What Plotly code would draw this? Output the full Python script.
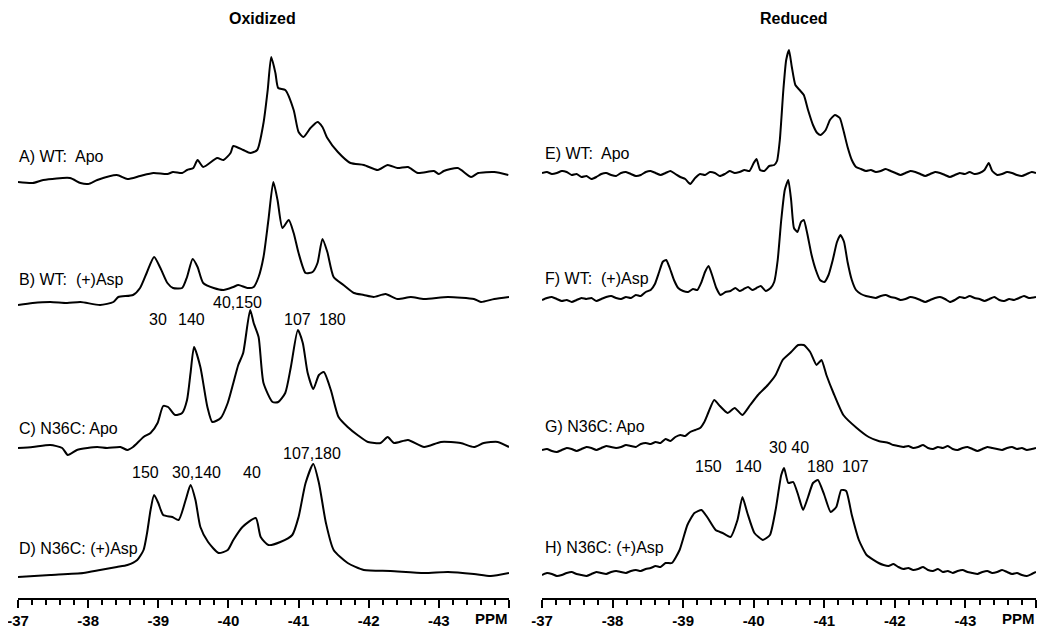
import plotly.graph_objects as go

# 19F NMR spectra, chemical shift in ppm, intensity in arbitrary units above each baseline
a_ppm = [-37.0, -37.21, -37.36, -37.74, -37.89, -38.0, -38.13, -38.41, -38.56, -38.74, -38.93, -39.13,
         -39.21, -39.34, -39.41, -39.5, -39.56, -39.64, -39.84, -39.93, -40.03, -40.07, -40.21, -40.31,
         -40.41, -40.5, -40.56, -40.61, -40.67, -40.71, -40.81, -40.93, -41.0, -41.07, -41.17, -41.27,
         -41.34, -41.41, -41.56, -41.74, -41.93, -42.13, -42.27, -42.41, -42.56, -42.7, -42.93, -43.0,
         -43.07, -43.27, -43.46, -43.56, -43.79, -43.99]
a_int = [0, -1, 2, 4, -1, -2, 2, 7, 3, 6, 9, 8, 10, 9, 12, 14, 22, 15, 24, 22, 29, 36, 32, 29,
         32, 59, 92, 125, 109, 94, 92, 72, 50, 45, 54, 60, 55, 44, 30, 19, 17, 12, 17, 14, 15, 9,
         11, 8, 11, 14, 5, 9, 10, 7]

b_ppm = [-37.0, -37.21, -37.46, -37.7, -37.89, -38.17, -38.36, -38.43, -38.64, -38.74, -38.84, -38.94,
         -39.03, -39.13, -39.21, -39.34, -39.41, -39.49, -39.56, -39.64, -39.79, -39.93, -40.07, -40.14,
         -40.27, -40.36, -40.43, -40.5, -40.57, -40.64, -40.7, -40.77, -40.86, -40.93, -41.0, -41.1,
         -41.2, -41.27, -41.34, -41.41, -41.5, -41.64, -41.79, -41.93, -42.07, -42.24, -42.41, -42.6,
         -42.79, -43.13, -43.5, -43.6, -43.79, -44.0]
b_int = [0, 2, 3, 2, 3, 0, 3, 8, 10, 17, 33, 48, 37, 22, 17, 17, 28, 46, 38, 22, 17, 15, 18, 20,
         17, 18, 28, 48, 85, 123, 105, 77, 85, 72, 52, 32, 33, 42, 66, 53, 28, 20, 12, 10, 8, 11, 6, 8,
         6, 8, 6, 3, 6, 8]

c_ppm = [-37.0, -37.21, -37.46, -37.63, -37.71, -37.84, -37.99, -38.13, -38.27, -38.46, -38.56, -38.64,
         -38.79, -38.89, -38.99, -39.07, -39.14, -39.24, -39.34, -39.41, -39.46, -39.51, -39.6, -39.7,
         -39.77, -39.89, -39.99, -40.07, -40.14, -40.21, -40.31, -40.36, -40.43, -40.5, -40.63, -40.71,
         -40.81, -40.89, -40.99, -41.06, -41.13, -41.21, -41.29, -41.36, -41.46, -41.57, -41.7, -41.84,
         -41.99, -42.17, -42.27, -42.36, -42.56, -42.79, -43.03, -43.31, -43.5, -43.64, -43.84, -44.0]
c_int = [0, 1, 3, 0, -7, -2, 0, 1, 0, 1, -2, 1, 11, 15, 25, 42, 41, 33, 35, 48, 75, 101, 81, 41,
         26, 30, 45, 65, 83, 95, 138, 125, 111, 65, 46, 46, 55, 81, 118, 105, 75, 59, 73, 76, 58, 31,
         21, 13, 6, 5, 11, 5, 8, 1, 6, 5, 1, 5, 6, 1]

d_ppm = [-37.0, -37.46, -37.93, -38.17, -38.41, -38.56, -38.7, -38.79, -38.84, -38.89, -38.94, -39.0,
         -39.07, -39.2, -39.29, -39.39, -39.46, -39.53, -39.6, -39.71, -39.86, -39.99, -40.07, -40.2,
         -40.39, -40.46, -40.57, -40.74, -40.91, -41.0, -41.1, -41.21, -41.29, -41.39, -41.5, -41.7,
         -41.93, -42.31, -42.79, -43.13, -43.5, -43.74, -44.0]
d_int = [0, 2, 4, 7, 10, 12, 17, 27, 44, 67, 82, 74, 62, 60, 57, 77, 92, 77, 50, 35, 24, 27, 37, 50,
         59, 40, 32, 35, 42, 60, 94, 113, 94, 54, 27, 14, 7, 6, 4, 5, 3, 1, 4]

e_ppm = [-37.0, -37.07, -37.14, -37.21, -37.28, -37.35, -37.42, -37.49, -37.56, -37.63, -37.7, -37.77,
         -37.84, -37.91, -37.98, -38.05, -38.12, -38.19, -38.26, -38.33, -38.4, -38.47, -38.54, -38.61,
         -38.68, -38.75, -38.82, -38.89, -38.96, -39.03, -39.1, -39.17, -39.24, -39.31, -39.38, -39.45,
         -39.52, -39.59, -39.66, -39.73, -39.8, -39.87, -39.94, -40.0, -40.04, -40.09, -40.15, -40.22,
         -40.29, -40.33, -40.37, -40.42, -40.46, -40.5, -40.54, -40.59, -40.65, -40.71, -40.77, -40.84,
         -40.9, -40.95, -41.02, -41.08, -41.15, -41.22, -41.27, -41.33, -41.39, -41.45, -41.52, -41.59,
         -41.66, -41.73, -41.8, -41.87, -41.94, -42.01, -42.08, -42.15, -42.22, -42.29, -42.36, -42.43,
         -42.5, -42.57, -42.64, -42.71, -42.78, -42.85, -42.92, -42.99, -43.06, -43.13, -43.2, -43.27,
         -43.33, -43.38, -43.45, -43.52, -43.59, -43.66, -43.73, -43.8, -43.87, -43.94, -44.0]
e_int = [2, 3, 1, 2, 4, 3, 0, 1, -2, -1, -4, -2, 1, 2, 0, -1, 2, 3, 1, -1, 0, 3, 4, 2,
         0, 2, 4, 1, -2, -4, -9, -3, 1, 0, 3, 2, -1, 1, 4, 2, 3, 5, 4, 12,
         16, 5, 4, 9, 10, 14, 35, 85, 115, 125, 108, 90, 85, 80, 65, 50, 42, 40, 45, 55, 60, 57, 45, 28, 15,
         8, 6, 4, 5, 3, 4, 6, 4, 2, 0, 2, 4, 3, 1, -1, 1, 3, 2, 0, -2, 0, 2, 1, 3, 1, 2, 5, 12,
         4, 0, 1, 3, 2, 0, -1, 1, 3, 2]

f_ppm = [-37.0, -37.07, -37.14, -37.21, -37.28, -37.35, -37.42, -37.49, -37.56, -37.63, -37.7, -37.77,
         -37.84, -37.91, -37.98, -38.05, -38.12, -38.19, -38.26, -38.33, -38.4, -38.47, -38.54, -38.6,
         -38.66, -38.71, -38.76, -38.81, -38.87, -38.93, -39.0, -39.07, -39.14, -39.2, -39.26, -39.31,
         -39.36, -39.41, -39.47, -39.53, -39.6, -39.67, -39.74, -39.8, -39.86, -39.92, -39.98, -40.04,
         -40.1, -40.17, -40.24, -40.29, -40.34, -40.39, -40.44, -40.49, -40.53, -40.57, -40.62, -40.67,
         -40.71, -40.76, -40.82, -40.88, -40.94, -41.0, -41.06, -41.12, -41.18, -41.23, -41.28, -41.33,
         -41.39, -41.45, -41.52, -41.59, -41.66, -41.73, -41.8, -41.87, -41.94, -42.01, -42.08, -42.15,
         -42.22, -42.29, -42.36, -42.43, -42.5, -42.57, -42.64, -42.71, -42.78, -42.85, -42.92, -42.99,
         -43.06, -43.13, -43.2, -43.27, -43.34, -43.41, -43.48, -43.55, -43.62, -43.69, -43.76, -43.83,
         -43.9, -44.0]
f_int = [0, 2, 3, 1, -1, 0, -2, 0, 2, 1, 2, -1, 1, 3, 4, 2, 1, 3, 2, 5, 4, 8, 10, 16,
         28, 38, 40, 32, 20, 12, 9, 8, 11, 10, 18, 28, 34, 25, 12,
         5, 8, 9, 12, 9, 11, 13, 10, 12, 14, 9, 12, 18,
         40, 80, 110, 120, 100, 72, 68, 78, 80, 66, 45, 30, 20, 18, 25, 40, 58, 65, 58, 38, 20, 10,
         6, 4, 3, 2, 4, 5, 3, 2, 0, 1, 3, 2, 0, -2, 0, 2, 3, 1, -2, 0, 3, 2, 4, 2, 1, -1, 1, 3,
         0, -1, 1, 0, 2, 4, 2, 3]

g_ppm = [-37.0, -37.07, -37.14, -37.21, -37.28, -37.35, -37.42, -37.49, -37.56, -37.63, -37.7, -37.77,
         -37.84, -37.91, -37.98, -38.05, -38.12, -38.19, -38.26, -38.33, -38.4, -38.47, -38.54, -38.61,
         -38.68, -38.75, -38.82, -38.89, -38.96, -39.03, -39.1, -39.17, -39.24, -39.3, -39.36, -39.44,
         -39.52, -39.63, -39.73, -39.84, -39.95, -40.06, -40.2, -40.31, -40.41, -40.53, -40.63, -40.71,
         -40.8, -40.89, -40.96, -41.03, -41.13, -41.27, -41.46, -41.63, -41.77, -41.91, -41.98, -42.05,
         -42.12, -42.19, -42.26, -42.33, -42.4, -42.47, -42.54, -42.61, -42.68, -42.75, -42.82, -42.89,
         -42.96, -43.03, -43.1, -43.17, -43.24, -43.31, -43.38, -43.45, -43.52, -43.59, -43.66, -43.73,
         -43.8, -43.87, -43.94, -44.0]
g_int = [0, 1, -1, -2, 0, 2, 1, -1, 1, 3, 2, 0, 2, 4, 3, 2, 3, 5, 4, 3, 6, 7, 6, 8,
         7, 11, 9, 13, 15, 14, 18, 20, 22, 28, 38, 50, 44, 37, 42, 35, 45, 55, 65, 75, 90, 98, 105, 105,
         98, 85, 90, 75, 57, 35, 22, 13, 9, 7,
         5, 4, 3, 4, 2, 3, 5, 2, 1, 3, 2, 4, 1, 0, 2, 3, 1, -1, 1, 3, 2, 1, 0, 2, 3, 1, 2, 0, 1, 2]

h_ppm = [-37.0, -37.07, -37.14, -37.21, -37.28, -37.35, -37.42, -37.49, -37.56, -37.63, -37.7, -37.77,
         -37.84, -37.91, -37.98, -38.05, -38.12, -38.19, -38.26, -38.33, -38.4, -38.47, -38.54, -38.61,
         -38.68, -38.75, -38.84, -38.95, -39.06, -39.16, -39.26, -39.34, -39.46, -39.56, -39.67, -39.77,
         -39.84, -39.91, -40.01, -40.13, -40.23, -40.31, -40.39, -40.43, -40.49, -40.56, -40.63, -40.7,
         -40.77, -40.84, -40.91, -41.0, -41.09, -41.17, -41.24, -41.31, -41.39, -41.49, -41.6, -41.77,
         -41.84, -41.91, -41.98, -42.05, -42.12, -42.19, -42.26, -42.33, -42.4, -42.47, -42.54, -42.61,
         -42.68, -42.75, -42.82, -42.89, -42.96, -43.03, -43.1, -43.17, -43.24, -43.31, -43.38, -43.45,
         -43.52, -43.59, -43.66, -43.73, -43.8, -43.87, -43.94, -44.0]
h_int = [0, 2, 1, -1, 0, 2, 3, 1, 0, -1, 1, 3, 2, 1, 3, 4, 3, 2, 4, 5, 4, 6, 7, 9,
         8, 12, 12, 25, 50, 62, 65, 58, 45, 42, 38, 55, 78, 62, 42, 35, 40, 65, 100, 107,
         92, 93, 80, 65, 78, 92, 95, 80, 63, 68, 85, 84, 60, 35, 20, 12,
         10, 9, 11, 8, 6, 7, 5, 6, 8, 5, 4, 6, 3, 4, 2, 4, 5, 3, 2, 1, 3, 4, 2, 3, 5, 3, 1, 2,
         0, -1, 1, 3]

tick_vals = [-37, -38, -39, -40, -41, -42, -43, -44]
tick_text = ["-37", "-38", "-39", "-40", "-41", "-42", "-43", ""]

# page body adds an 8px margin, so the figure is a bit smaller than the window
W, H, PAD = 1042, 631, 8


def px(x):
    return (x - PAD) / W


def py(y):
    return 1 - (y - PAD) / H


# baseline offsets for the stacked spectra
left = [(a_ppm, a_int, 416), (b_ppm, b_int, 293), (c_ppm, c_int, 150), (d_ppm, d_int, 21)]
right = [(e_ppm, e_int, 423), (f_ppm, f_int, 298), (g_ppm, g_int, 148), (h_ppm, h_int, 23)]

fig = go.Figure()
for xs, ys, off in left:
    fig.add_trace(go.Scatter(x=xs, y=[v + off for v in ys], mode="lines",
                             line=dict(color="black", width=2, shape="spline", smoothing=0.6),
                             xaxis="x", yaxis="y"))
for xs, ys, off in right:
    fig.add_trace(go.Scatter(x=xs, y=[v + off for v in ys], mode="lines",
                             line=dict(color="black", width=2, shape="spline", smoothing=0.5),
                             xaxis="x2", yaxis="y2"))

axis_style = dict(range=[-37, -44], tickvals=tick_vals, ticktext=tick_text, showgrid=False,
                  zeroline=False, showline=True, linecolor="black", linewidth=2, automargin=False,
                  ticks="outside", ticklen=8, tickwidth=2, tickcolor="black",
                  ticklabeloverflow="allow",
                  tickfont=dict(family="Liberation Sans", size=15, color="black", weight="bold"),
                  minor=dict(dtick=0.2, tick0=-37, ticks="outside", ticklen=5, tickwidth=1.5,
                             tickcolor="black", showgrid=False))
y_style = dict(domain=[py(598), 1], range=[0, 598 - PAD], visible=False, automargin=False)
fig.update_layout(
    width=W, height=H, margin=dict(l=0, r=0, t=0, b=0, autoexpand=False),
    plot_bgcolor="white", paper_bgcolor="white", showlegend=False,
    xaxis=dict(domain=[px(18), px(509)], anchor="y", **axis_style),
    xaxis2=dict(domain=[px(542), px(1036)], anchor="y2", **axis_style),
    yaxis=y_style, yaxis2=y_style,
)

font = dict(family="Liberation Sans", size=16, color="black")
bold = dict(family="Liberation Sans", size=16, color="black", weight="bold")
bold_tick = dict(family="Liberation Sans", size=15, color="black", weight="bold")
ann = [dict(text="Oxidized", x=px(262), y=py(19), font=bold),
       dict(text="Reduced", x=px(794), y=py(19), font=bold),
       dict(text="PPM", x=px(510), y=py(618), xanchor="right", font=bold_tick),
       dict(text="PPM", x=px(1037), y=py(618), xanchor="right", font=bold_tick)]

samples = [("A) WT:  Apo", 17, 157), ("B) WT:  (+)Asp", 17, 279), ("C) N36C: Apo", 17, 428),
           ("D) N36C: (+)Asp", 17, 548), ("E) WT:  Apo", 543, 153), ("F) WT:  (+)Asp", 543, 278),
           ("G) N36C: Apo", 543, 426), ("H) N36C: (+)Asp", 543, 547)]
for t, x, y in samples:
    ann.append(dict(text=t, x=px(x), y=py(y), xanchor="left", font=font))

peak_labels = [("30", 158, 320), ("140", 191, 320), ("40,150", 237, 302), ("107", 297, 320),
               ("180", 332, 320), ("150", 145, 472), ("30,140", 196, 472), ("40", 252, 472),
               ("107,180", 312, 453), ("30 40", 789, 447), ("150", 708, 466), ("140", 748, 466),
               ("180", 820, 466), ("107", 855, 466)]
for t, x, y in peak_labels:
    ann.append(dict(text=t, x=px(x), y=py(y), xanchor="center", font=font))

for a in ann:
    a.update(xref="paper", yref="paper", showarrow=False, yanchor="middle")
    a.setdefault("xanchor", "center")
fig.update_layout(annotations=ann)
fig.write_html("out.html")
